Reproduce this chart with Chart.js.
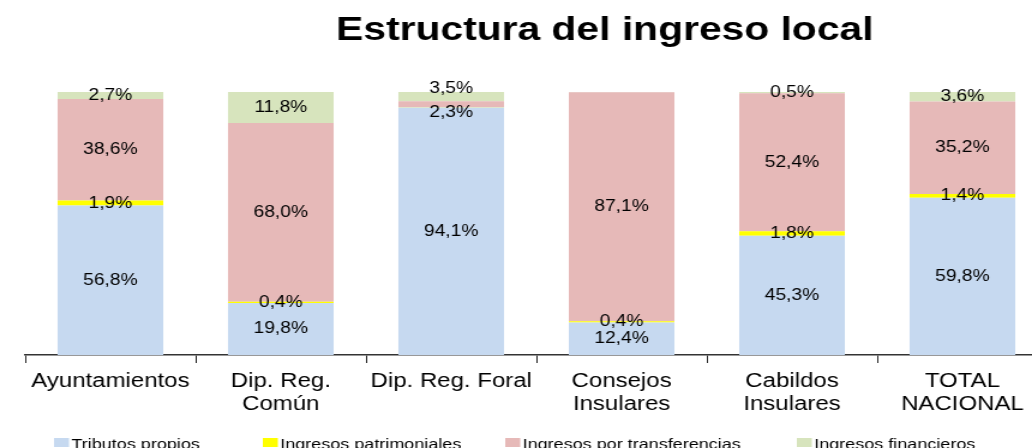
<!DOCTYPE html>
<html>
<head>
<meta charset="utf-8">
<script src="https://cdn.jsdelivr.net/npm/chart.js@4.4.1/dist/chart.umd.min.js"></script>
<style>
  html, body { margin: 0; padding: 0; background: #fff; overflow: hidden; width: 1032px; height: 448px; }
  #wrap { position: absolute; left: 0; top: 0; width: 880px; height: 460px; transform: scaleX(1.2); transform-origin: 0 0; }
</style>
</head>
<body>
<div id="wrap"><canvas id="chart" width="880" height="460"></canvas></div>
<script>
var categories = ['Ayuntamientos', ['Dip. Reg.', 'Común'], 'Dip. Reg. Foral', ['Consejos', 'Insulares'], ['Cabildos', 'Insulares'], ['TOTAL', 'NACIONAL']];
var tributosPropios = [56.8, 19.8, 94.1, 12.4, 45.3, 59.8];
var ingresosPatrimoniales = [1.9, 0.4, 0.1, 0.4, 1.8, 1.4];
var ingresosTransferencias = [38.6, 68.0, 2.3, 87.1, 52.4, 35.2];
var ingresosFinancieros = [2.7, 11.8, 3.5, 0.1, 0.5, 3.6];

var FONT = "'Liberation Sans', Arial, sans-serif";

function fmt(v) {
	return v.toFixed(1).replace('.', ',') + '%';
}

// labels inside the stacked segments
var segmentLabels = {
	id: 'segmentLabels',
	afterDatasetsDraw: function(chart) {
		var ctx = chart.ctx;
		ctx.save();
		ctx.font = '16px ' + FONT;
		ctx.fillStyle = '#000';
		ctx.textAlign = 'center';
		ctx.textBaseline = 'middle';
		chart.data.datasets.forEach(function(ds, di) {
			var meta = chart.getDatasetMeta(di);
			meta.data.forEach(function(bar, i) {
				var v = ds.data[i];
				if (v < 0.3) return;
				var y = (bar.y + bar.base) / 2;
				if (i === 2 && di === 2) y += 8;
				if (i === 2 && di === 3) y -= 8;
				ctx.fillText(fmt(v), bar.x, y);
			});
		});
		ctx.restore();
	}
};

// title and legend at fixed spots, like the original sheet
var decor = {
	id: 'decor',
	afterDraw: function(chart) {
		var ctx = chart.ctx;
		ctx.save();
		ctx.fillStyle = '#000';
		ctx.font = 'bold 34px ' + FONT;
		ctx.textAlign = 'center';
		ctx.textBaseline = 'alphabetic';
		ctx.fillText('Estructura del ingreso local', 504, 40);

		var xs = [45, 219, 421, 664];
		ctx.font = '15px ' + FONT;
		ctx.textAlign = 'left';
		chart.data.datasets.forEach(function(ds, di) {
			ctx.fillStyle = ds.backgroundColor;
			ctx.fillRect(xs[di], 438, 12.5, 9);
			ctx.fillStyle = '#000';
			ctx.fillText(ds.label, xs[di] + 14.5, 449);
		});
		ctx.restore();
	}
};

new Chart(document.getElementById('chart'), {
	type: 'bar',
	data: {
		labels: categories,
		datasets: [
			{ label: 'Tributos propios', data: tributosPropios, backgroundColor: '#C6D9F0' },
			{ label: 'Ingresos patrimoniales', data: ingresosPatrimoniales, backgroundColor: '#FFFF00' },
			{ label: 'Ingresos por transferencias', data: ingresosTransferencias, backgroundColor: '#E6B9B8' },
			{ label: 'Ingresos financieros', data: ingresosFinancieros, backgroundColor: '#D7E4BD' }
		]
	},
	options: {
		responsive: false,
		animation: false,
		layout: {
			padding: { top: 92, left: 21, right: 7, bottom: 37 }
		},
		datasets: {
			bar: { categoryPercentage: 1, barPercentage: 0.62, borderWidth: 0 }
		},
		scales: {
			x: {
				stacked: true,
				grid: { offset: true, drawOnChartArea: false, drawTicks: true, tickLength: 8, color: '#222', lineWidth: 1 },
				border: { display: true, color: '#333', width: 1.5 },
				ticks: { color: '#000', padding: 7, maxRotation: 0, autoSkip: false, font: { family: FONT, size: 20, lineHeight: 1.15 } }
			},
			y: {
				stacked: true,
				display: false,
				min: 0,
				max: 100
			}
		},
		plugins: {
			legend: { display: false },
			title: { display: false },
			tooltip: { enabled: false }
		}
	},
	plugins: [segmentLabels, decor]
});
</script>
</body>
</html>
